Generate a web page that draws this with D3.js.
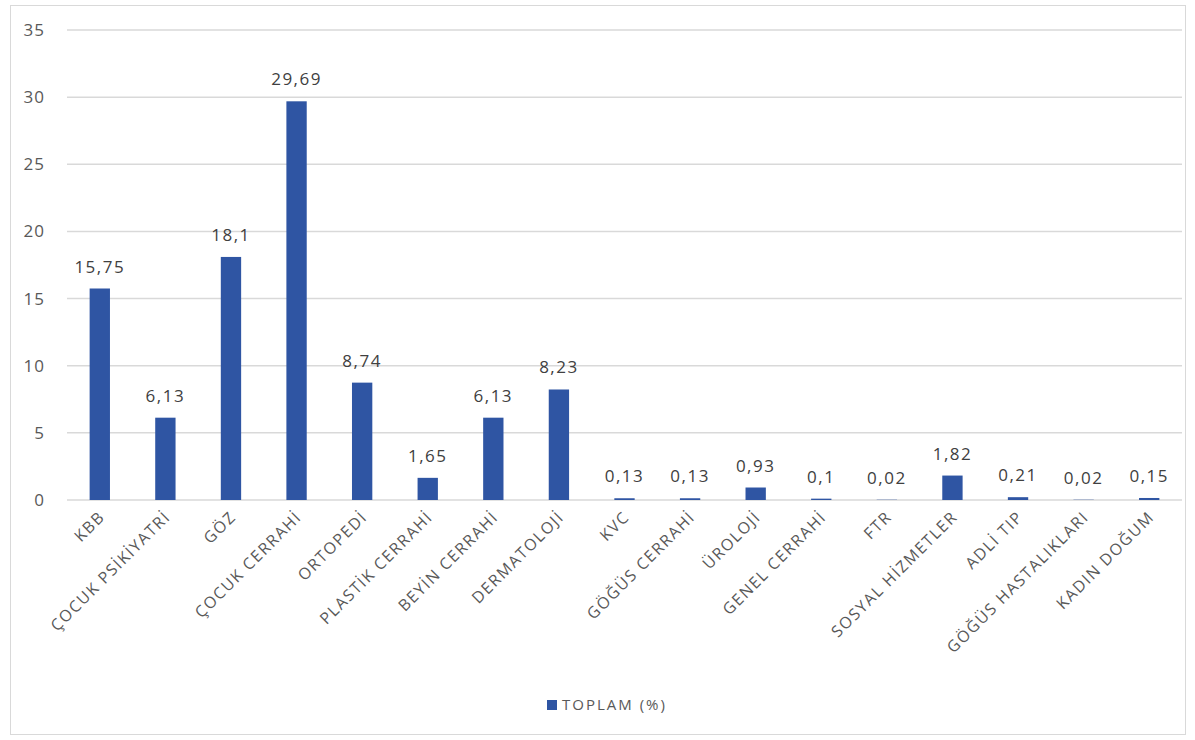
<!DOCTYPE html>
<html>
<head>
<meta charset="utf-8">
<script src="https://cdn.jsdelivr.net/npm/d3@7"></script>
<style>
  body { margin: 0; background: #fff; }
  svg { font-family: "Open Sans", sans-serif; }
</style>
</head>
<body>
<svg width="1195" height="740"></svg>
<script>
const svg = d3.select('svg');
const width  = +svg.attr('width');
const height = +svg.attr('height');
const margin = {top: 30, bottom: 240, left: 67, right: 13};

// Data
const categories = ['KBB', 'ÇOCUK PSİKİYATRİ', 'GÖZ', 'ÇOCUK CERRAHİ', 'ORTOPEDİ',
  'PLASTİK CERRAHİ', 'BEYİN CERRAHİ', 'DERMATOLOJİ', 'KVC', 'GÖĞÜS CERRAHİ',
  'ÜROLOJİ', 'GENEL CERRAHİ', 'FTR', 'SOSYAL HİZMETLER', 'ADLİ TIP',
  'GÖĞÜS HASTALIKLARI', 'KADIN DOĞUM'];
const values = [15.75, 6.13, 18.1, 29.69, 8.74, 1.65, 6.13, 8.23, 0.13, 0.13,
  0.93, 0.1, 0.02, 1.82, 0.21, 0.02, 0.15];
const yTicks = [0, 5, 10, 15, 20, 25, 30, 35];
const seriesName = 'TOPLAM (%)';

const barColor = '#2F55A3';
const fmt = v => String(v).replace('.', ',');

// Outer frame
svg.append('rect')
  .attr('x', 10.5).attr('y', 5.5)
  .attr('width', 1175).attr('height', 729)
  .attr('fill', '#fff').attr('stroke', '#d9d9d9');

const innerWidth  = width - margin.left - margin.right;
const innerHeight = height - margin.top - margin.bottom;

const chart = svg.append('g')
  .attr('transform', `translate(${margin.left},${margin.top})`);

const xScale = d3.scaleBand()
  .domain(categories)
  .range([0, innerWidth])
  .paddingInner(0.69)
  .paddingOuter(0.345);

const yScale = d3.scaleLinear()
  .domain([0, 35])
  .range([innerHeight, 0]);

// Gridlines
chart.selectAll('.grid').data(yTicks)
  .enter().append('line')
    .attr('class', 'grid')
    .attr('x1', 0).attr('x2', innerWidth)
    .attr('y1', d => yScale(d)).attr('y2', d => yScale(d))
    .attr('stroke', '#d9d9d9').attr('stroke-width', 1.5);

// Y axis
const yAxisG = chart.append('g')
  .call(d3.axisLeft(yScale).tickValues(yTicks).tickSize(0).tickPadding(22));
yAxisG.select('.domain').remove();
yAxisG.selectAll('text')
  .attr('fill', '#595959')
  .style('font-family', '"Open Sans", sans-serif')
  .style('font-size', '17px')
  .style('letter-spacing', '1px');

// Bars
chart.selectAll('.bar').data(values)
  .enter().append('rect')
    .attr('class', 'bar')
    .attr('x', (d, i) => xScale(categories[i]))
    .attr('y', d => yScale(d))
    .attr('width', xScale.bandwidth())
    .attr('height', d => innerHeight - yScale(d))
    .attr('fill', barColor);

// Value labels
chart.selectAll('.val').data(values)
  .enter().append('text')
    .attr('class', 'val')
    .attr('x', (d, i) => xScale(categories[i]) + xScale.bandwidth() / 2)
    .attr('y', d => yScale(d) - 16)
    .attr('text-anchor', 'middle')
    .attr('fill', '#404040')
    .style('font-size', '17px')
    .style('letter-spacing', '1.5px')
    .text(d => fmt(d));

// X axis labels
const xAxisG = chart.append('g')
  .attr('transform', `translate(0,${innerHeight})`)
  .call(d3.axisBottom(xScale).tickSize(0).tickPadding(0));
xAxisG.select('.domain').remove();
xAxisG.selectAll('text')
  .attr('fill', '#595959')
  .style('font-family', '"Open Sans", sans-serif')
  .style('font-size', '16px')
  .style('letter-spacing', '1.5px')
  .attr('text-anchor', 'end')
  .attr('dy', null)
  .attr('transform', 'translate(6,18) rotate(-45)');

// Legend
const legend = svg.append('g')
  .attr('transform', 'translate(547,705)');
legend.append('rect')
  .attr('x', 0).attr('y', -5)
  .attr('width', 10).attr('height', 10)
  .attr('fill', barColor);
legend.append('text')
  .attr('x', 15).attr('y', 0)
  .attr('dy', '0.35em')
  .attr('fill', '#595959')
  .style('font-size', '15px')
  .style('letter-spacing', '2px')
  .text(seriesName);
</script>
</body>
</html>
